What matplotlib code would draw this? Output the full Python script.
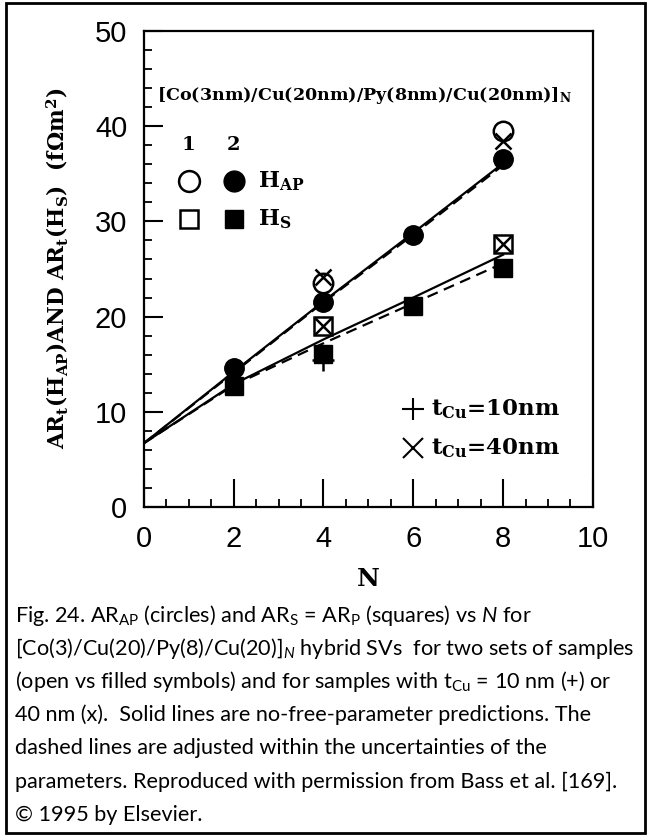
import matplotlib
matplotlib.use("Agg")
import matplotlib.pyplot as plt
from matplotlib.patches import Rectangle

plt.rcParams['mathtext.fontset'] = 'custom'
plt.rcParams['mathtext.rm'] = 'Lato'
plt.rcParams['mathtext.it'] = 'Lato:italic'
plt.rcParams['mathtext.bf'] = 'DejaVu Serif:bold'

# measured points (N, AR in fOhm m^2)
n_pts = [2, 4, 6, 8]
ap_filled = [14.6, 21.5, 28.6, 36.6]
s_filled = [12.7, 16.1, 21.1, 25.1]
n_open = [4, 8]
ap_open = [23.5, 39.5]
s_open = [19.0, 27.6]
n_x40 = [4, 4, 8, 8]
x40 = [24.2, 19.0, 27.6, 38.4]
n_p10 = [4]
p10 = [15.4]

# model lines
n_line = [0, 2, 4, 6, 8]
ap_solid = [6.7, 14.2, 21.6, 28.8, 36.1]
ap_dashed = [6.7, 14.1, 21.5, 28.6, 35.9]
s_solid = [6.7, 12.9, 17.6, 22.0, 26.5]
s_dashed = [6.7, 12.8, 17.2, 21.4, 25.6]

xticks = [0, 2, 4, 6, 8, 10]
yticks = [0, 10, 20, 30, 40, 50]

caption = [
    "Fig. 24. AR$_\\mathrm{AP}$ (circles) and AR$_\\mathrm{S}$ = AR$_\\mathrm{P}$ (squares) vs $N$ for",
    "[Co(3)/Cu(20)/Py(8)/Cu(20)]$_N$ hybrid SVs  for two sets of samples",
    "(open vs filled symbols) and for samples with t$_\\mathrm{Cu}$ = 10 nm (+) or",
    "40 nm (x).  Solid lines are no-free-parameter predictions. The",
    "dashed lines are adjusted within the uncertainties of the",
    "parameters. Reproduced with permission from Bass et al. [169].",
    "\u00a9 1995 by Elsevier.",
]

fig = plt.figure(figsize=(6.48, 8.36), dpi=100)
ax = fig.add_axes([0.222, 0.3935, 0.693, 0.5695])

serif = 'DejaVu Serif'

ax.plot(n_line, ap_solid, color='k', lw=1.6, zorder=3)
ax.plot(n_line, ap_dashed, color='k', lw=1.6, ls=(0, (5, 3)), zorder=3)
ax.plot(n_line, s_solid, color='k', lw=1.6, zorder=3)
ax.plot(n_line, s_dashed, color='k', lw=1.6, ls=(0, (5, 3)), zorder=3)

ax.plot(n_pts, ap_filled, 'o', color='k', ms=14, ls='none', zorder=4)
ax.plot(n_pts, s_filled, 's', color='k', ms=13, ls='none', zorder=4)
ax.plot(n_open, ap_open, 'o', mfc='white', mec='k', mew=1.8, ms=14, ls='none', zorder=5)
ax.plot(n_open, s_open, 's', mfc='white', mec='k', mew=1.8, ms=13, ls='none', zorder=5)
ax.plot(n_x40, x40, 'x', color='k', mew=1.8, ms=12, ls='none', zorder=6)
ax.plot(n_p10, p10, '+', color='k', mew=1.8, ms=16, ls='none', zorder=3)

# legend drawn by hand as in the original
ax.text(1.0, 38.0, "1", family=serif, weight='bold', fontsize=14, ha='center', va='center')
ax.text(2.0, 38.0, "2", family=serif, weight='bold', fontsize=14, ha='center', va='center')
ax.plot([1.0], [34.2], 'o', mfc='white', mec='k', mew=1.8, ms=15)
ax.plot([2.0], [34.2], 'o', color='k', ms=15)
ax.plot([1.0], [30.2], 's', mfc='white', mec='k', mew=1.8, ms=13)
ax.plot([2.0], [30.2], 's', color='k', ms=13)
ax.text(2.55, 34.2, "H$_\\mathbf{AP}$", family=serif, weight='bold', fontsize=16, va='center')
ax.text(2.55, 30.2, "H$_\\mathbf{S}$", family=serif, weight='bold', fontsize=16, va='center')

ax.plot([6.0], [10.3], '+', color='k', mew=1.5, ms=16)
ax.plot([6.0], [6.2], 'x', color='k', mew=1.5, ms=14)
ax.text(6.4, 10.3, "t$_\\mathbf{Cu}$=10nm", family=serif, weight='bold', fontsize=16.5, va='center')
ax.text(6.4, 6.2, "t$_\\mathbf{Cu}$=40nm", family=serif, weight='bold', fontsize=16.5, va='center')

ax.text(0.3, 43.2, "[Co(3nm)/Cu(20nm)/Py(8nm)/Cu(20nm)]$_\\mathbf{N}$", family=serif,
        weight='bold', fontsize=12.6, va='center')

ax.set_xlim(0, 10)
ax.set_ylim(0, 50)
ax.set_xticks(xticks)
ax.set_yticks(yticks)
ax.set_xticks([i * 0.5 for i in range(21)], minor=True)
ax.set_yticks(list(range(0, 51, 2)), minor=True)
ax.tick_params(which='major', direction='in', length=14, width=1.5)
ax.tick_params(which='minor', direction='in', length=6, width=1.3)
ax.tick_params(axis='x', which='major', length=20, pad=13)
ax.tick_params(axis='y', which='major', pad=12)
for lab in ax.get_xticklabels() + ax.get_yticklabels():
    lab.set_family('Liberation Sans')
    lab.set_fontsize(21)
for sp in ax.spines.values():
    sp.set_linewidth(1.6)

ax.set_xlabel("N", family=serif, weight='bold', fontsize=18, labelpad=10)
fig.text(57 / 648, 1 - 268 / 836,
         "AR$_\\mathbf{t}$(H$_\\mathbf{AP}$)AND AR$_\\mathbf{t}$(H$_\\mathbf{S}$)  (f\u03a9m$^\\mathbf{2}$)",
         family=serif, weight='bold', fontsize=15.5, rotation=90, ha='center', va='center')

y0 = 615
for i, line in enumerate(caption):
    fig.text(15 / 648, 1 - (y0 + i * 33.3) / 836, line, family='Lato', fontsize=15.6,
             ha='left', va='center')

fig.patches.append(Rectangle((0.009, 0.003), 0.986, 0.994, transform=fig.transFigure,
                             fill=False, lw=2, ec='k'))

fig.savefig('out.png', dpi=100)
